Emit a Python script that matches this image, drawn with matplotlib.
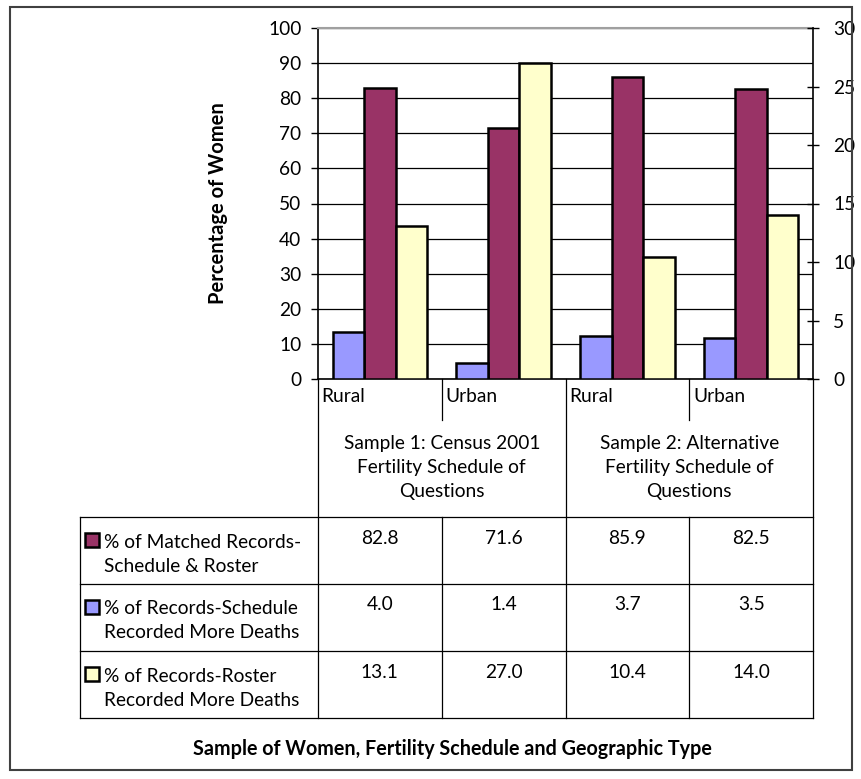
import numpy as np
import matplotlib.pyplot as plt
from matplotlib.transforms import blended_transform_factory
from matplotlib.patches import Rectangle
from matplotlib.lines import Line2D

plt.rcParams['font.family'] = ['Lato', 'DejaVu Sans']

# data
areas = ['Rural', 'Urban', 'Rural', 'Urban']
samples = ['Sample 1: Census 2001\nFertility Schedule of\nQuestions',
           'Sample 2: Alternative\nFertility Schedule of\nQuestions']
series_names = ['% of Matched Records-\nSchedule & Roster',
                '% of Records-Schedule\nRecorded More Deaths',
                '% of Records-Roster\nRecorded More Deaths']
matched = [82.8, 71.6, 85.9, 82.5]      # primary axis
sched_more = [4.0, 1.4, 3.7, 3.5]       # secondary axis
roster_more = [13.1, 27.0, 10.4, 14.0]  # secondary axis
colors = ['#993366', '#9999FF', '#FFFFCC']

W, H = 862, 779
FS = 13.8
fig = plt.figure(figsize=(W / 100, H / 100), dpi=100)

def fx(p):
    return p / W

def fy(p):
    return 1 - p / H

# outer chart border
fig.patches.append(Rectangle((fx(10), fy(770)), 842 / W, 763 / H, transform=fig.transFigure,
                             fill=False, ec='#404040', lw=1.5))

ax = fig.add_axes([fx(318), fy(379), 495 / W, 351 / H])
ax2 = ax.twinx()

x = np.arange(len(areas))
bw = 0.255
ax.bar(x, matched, bw, color=colors[0], edgecolor='black', lw=1.8, zorder=3)
ax2.bar(x - bw, sched_more, bw, color=colors[1], edgecolor='black', lw=1.8)
ax2.bar(x + bw, roster_more, bw, color=colors[2], edgecolor='black', lw=1.8)

ax.set_xlim(-0.5, 3.5)
ax.set_ylim(0, 100)
ax.set_yticks(range(0, 101, 10))
ax2.set_ylim(0, 30)
ax2.set_yticks(range(0, 31, 5))
ax.yaxis.grid(True, color='black', lw=0.9)
ax.set_axisbelow(True)

ax.tick_params(axis='x', bottom=False, labelbottom=False)
ax.tick_params(axis='y', direction='out', length=5, width=1, pad=7, labelsize=FS)
ax2.tick_params(axis='y', direction='inout', length=9, width=1, pad=10, labelsize=FS)

ax.spines['right'].set_visible(False)
ax.spines['top'].set_color('#A0A0A0')
ax.spines['top'].set_linewidth(1.5)
ax.spines['left'].set_linewidth(1.2)
ax.spines['bottom'].set_linewidth(1.2)
for s in ['left', 'top', 'bottom']:
    ax2.spines[s].set_visible(False)
ax2.spines['right'].set_linewidth(1.2)

ax.set_ylabel('Percentage of Women', fontweight='bold', fontsize=14.5)
ax.yaxis.set_label_coords((228 - 318) / 495, 0.5)

# data table below the chart
trans = blended_transform_factory(ax.transData, fig.transFigure)

def vline(xd, y0, y1):
    fig.add_artist(Line2D([xd, xd], [fy(y0), fy(y1)], transform=trans, color='black', lw=0.9))

def hline(y):
    fig.add_artist(Line2D([fx(80), fx(813)], [fy(y), fy(y)], transform=fig.transFigure,
                          color='black', lw=0.9))

for xd in [0.5, 2.5]:
    vline(xd, 379, 420)
    vline(xd, 517, 718)
for xd in [-0.5, 1.5, 3.5]:
    vline(xd, 379, 718)
fig.add_artist(Line2D([fx(80), fx(80)], [fy(517), fy(718)], transform=fig.transFigure,
                      color='black', lw=0.9))
for y in [517, 584, 651, 718]:
    hline(y)

for i, a in enumerate(areas):
    fig.text(i - 0.47, fy(397), a, ha='left', va='center', fontsize=FS, transform=trans)
for j, s in enumerate(samples):
    fig.text(2 * j + 0.5, fy(468), s, ha='center', va='center', fontsize=FS,
             linespacing=1.5, transform=trans)

rows = [matched, sched_more, roster_more]
for r, (name, vals) in enumerate(zip(series_names, rows)):
    top = 517 + 67 * r
    fig.patches.append(Rectangle((fx(85), fy(top + 30)), 14 / W, 14 / H, transform=fig.transFigure,
                                 fc=colors[r], ec='black', lw=1.8))
    fig.text(fx(104), fy(top + 37), name, ha='left', va='center', fontsize=FS,
             linespacing=1.5, transform=fig.transFigure)
    for i, v in enumerate(vals):
        fig.text(i, fy(top + 21), f'{v:.1f}', ha='center', va='center', fontsize=FS, transform=trans)

fig.text(fx(452), fy(749), 'Sample of Women, Fertility Schedule and Geographic Type',
         ha='center', va='center', fontsize=14.2, fontweight='bold')

fig.savefig('out.png', dpi=100)
